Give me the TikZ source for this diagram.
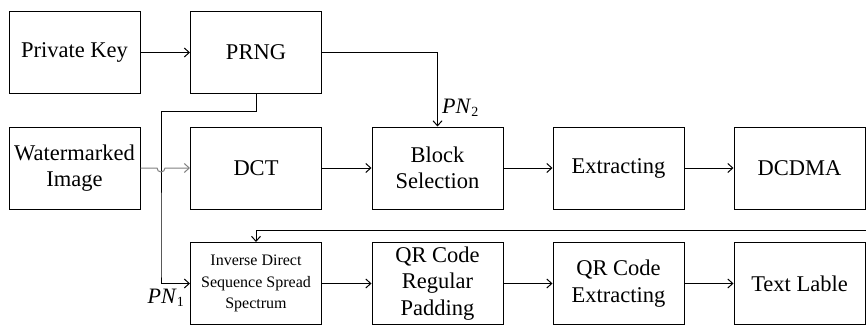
\documentclass[tikz,border=0pt]{standalone}
\usepackage{fontspec}
\setmainfont{Liberation Serif}
\usetikzlibrary{arrows.meta}
\begin{document}
\begin{tikzpicture}[x=1pt,y=-1pt,
  box/.style={draw,line width=1pt,minimum width=131pt,minimum height=82pt,inner sep=0pt,align=center,font=\fontsize{22.5}{26.5}\selectfont},
  smallbox/.style={box,font=\fontsize{16}{21.5}\selectfont},
  conn/.style={line width=1pt,-{Straight Barb[length=5pt,width=9pt]}},
  lbl/.style={font=\fontsize{22}{24}\selectfont,inner sep=0pt}]
\useasboundingbox (0,0) rectangle (866,326);
\node[box] (pk) at (74.5,52.5) {Private Key};
\node[box] (prng) at (256,52.5) {PRNG};
\node[box] (wi) at (74.5,168) {Watermarked\\Image};
\node[box] (dct) at (256,168) {DCT};
\node[box] (bs) at (437.5,168) {Block\\Selection};
\node[box] (ex) at (618.5,168) {Extracting};
\node[box] (dc) at (799.5,168) {DCDMA};
\node[smallbox] (inv) at (256,283.5) {Inverse Direct\\Sequence Spread\\Spectrum};
\node[box] (qrp) at (437.5,283.5) {QR Code\\Regular\\Padding};
\node[box] (qre) at (618.5,283.5) {QR Code\\Extracting};
\node[box] (tl) at (799.5,283.5) {Text Lable};
\coordinate (fb) at (866,230);
\draw[conn] (pk) -- (prng);
\draw[conn] (prng.east) -| (bs.north);
\node[lbl,anchor=west] (pn2) at (442,108) {\textit{PN}\raisebox{-0.35ex}{\fontsize{14}{14}\selectfont 2}};
\draw[conn] (prng.south) -- ++(0,17) -| (161,272) |- (inv.west);
\node[lbl,anchor=east] (pn1) at (184,298) {\textit{PN}\raisebox{-0.35ex}{\fontsize{14}{14}\selectfont 1}};
\draw[conn,gray] (wi.east) -- (157,168) arc[start angle=180,end angle=0,radius=4] -- (dct.west);
\draw[conn] (dct) -- (bs);
\draw[conn] (bs) -- (ex);
\draw[conn] (ex) -- (dc);
\draw[conn] (fb) -| (inv.north);
\draw[conn] (inv) -- (qrp);
\draw[conn] (qrp) -- (qre);
\draw[conn] (qre) -- (tl);
\end{tikzpicture}
\end{document}
